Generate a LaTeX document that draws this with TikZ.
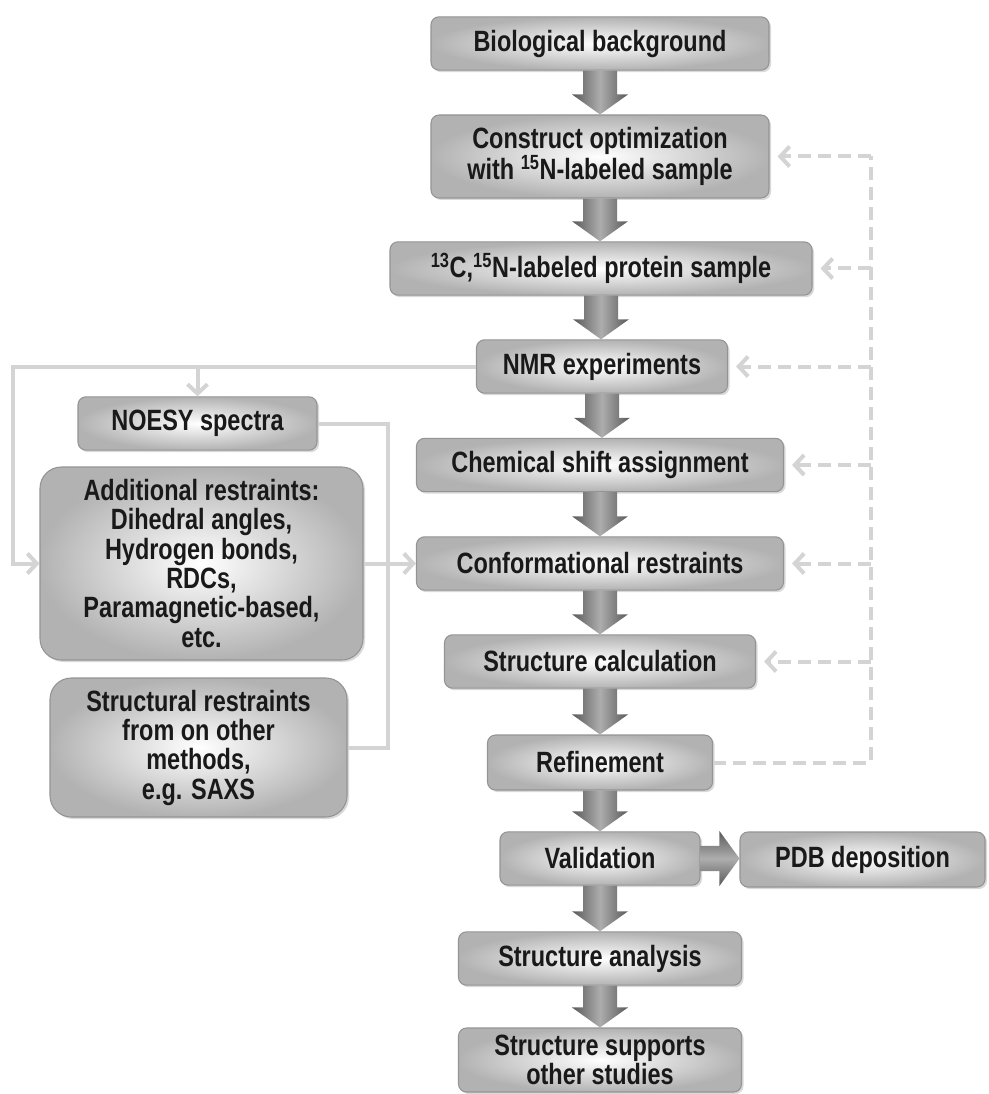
\documentclass[tikz,border=0pt]{standalone}
\usepackage{fontspec}
\setmainfont{Liberation Sans}[FakeStretch=0.8]
\usetikzlibrary{arrows.meta,calc,shadows}

% fat grey arrows between the steps
\newcommand{\fatdown}[2]{%
  \shade[fatv] let \p1=(#1.south), \p2=(#2.north) in
    (\x1-12.75pt,\y1) -- (\x1+12.75pt,\y1) -- (\x1+12.75pt,\y2+15pt)
    -- (\x1+21pt,\y2+15pt) -- (\x1,\y2) -- (\x1-21pt,\y2+15pt)
    -- (\x1-12.75pt,\y2+15pt) -- cycle;}
\newcommand{\fatright}[2]{%
  \shade[fath] let \p1=(#1.east), \p2=(#2.west) in
    (\x1,\y1-9.4pt) -- (\x2-15pt,\y1-9.4pt) -- (\x2-15pt,\y1-20.6pt)
    -- (\x2,\y1) -- (\x2-15pt,\y1+20.6pt) -- (\x2-15pt,\y1+9.4pt)
    -- (\x1,\y1+9.4pt) -- cycle;}

\begin{document}
\begin{tikzpicture}[x=0.75pt,y=-0.75pt,
    stage/.style={draw=black!42, line width=0.8pt, rounded corners=6pt,
      inner color=white, outer color=black!30,
      drop shadow={shadow xshift=1.5pt,shadow yshift=-1.5pt,opacity=0.3},
      minimum height=40pt, inner sep=0pt, align=center, text=black!90,
      font=\fontsize{22}{22}\selectfont\bfseries},
    bigstage/.style={stage, rounded corners=16pt},
    fatv/.style={left color=black!65, right color=black!65, middle color=black!32},
    fath/.style={top color=black!65, bottom color=black!65, middle color=black!32},
    feedline/.style={draw=black!17, line width=3pt},
    loopback/.style={feedline, dash pattern=on 10pt off 5pt},
    barb/.style={-{Straight Barb[length=7pt,width=15pt]}}]
  \useasboundingbox (0,0) rectangle (988,1094);

  % main steps
  \node[stage, minimum width=253.5pt] (bio) at (600,43.5) {Biological background};
  \node[stage, minimum width=253.5pt, minimum height=62.25pt] (construct) at (600,156.5)
    {Construct optimization\\with \textsuperscript{15}N-labeled sample};
  \node[stage, minimum width=316.5pt] (c13) at (601,268.5)
    {\textsuperscript{13}C,\textsuperscript{15}N-labeled protein sample};
  \node[stage, minimum width=188.25pt] (nmr) at (602,366.5) {NMR experiments};
  \node[stage, minimum width=275.25pt] (chem) at (600,465) {Chemical shift assignment};
  \node[stage, minimum width=275.25pt] (conf) at (600,563.5) {Conformational restraints};
  \node[stage, minimum width=233.25pt] (calc) at (600,661.5) {Structure calculation};
  \node[stage, minimum width=168.75pt, minimum height=41.25pt] (refine) at (600,762.5) {Refinement};
  \node[stage, minimum width=150pt] (valid) at (600,858.5) {Validation};
  \node[stage, minimum width=183.75pt, minimum height=41.25pt] (pdb) at (862.5,859.5) {PDB deposition};
  \node[stage, minimum width=212.25pt] (analysis) at (600,958.5) {Structure analysis};
  \node[stage, minimum width=212.25pt, minimum height=48pt] (supports) at (600,1060)
    {Structure supports\\other studies};

  % restraint sources
  \node[stage, minimum width=179.25pt] (noesy) at (197.5,423.5) {NOESY spectra};
  \node[bigstage, minimum width=242.25pt, minimum height=144.75pt] (addl) at (201.5,563.5)
    {Additional restraints:\\Dihedral angles,\\Hydrogen bonds,\\RDCs,\\Paramagnetic-based,\\etc.};
  \node[bigstage, minimum width=222.75pt, minimum height=104.25pt] (struct) at (198.5,747.5)
    {Structural restraints\\from on other\\methods,\\e.g. SAXS};

  % flow
  \fatdown{bio}{construct}
  \fatdown{construct}{c13}
  \fatdown{c13}{nmr}
  \fatdown{nmr}{chem}
  \fatdown{chem}{conf}
  \fatdown{conf}{calc}
  \fatdown{calc}{refine}
  \fatdown{refine}{valid}
  \fatdown{valid}{analysis}
  \fatdown{analysis}{supports}
  \fatright{valid}{pdb}

  % rails
  \coordinate (leftrail) at (13,0);
  \coordinate (midrail) at (388,0);
  \coordinate (backrail) at (871,0);

  % spectra and restraints
  \draw[feedline,barb] (nmr.west) -- (nmr.west -| leftrail) |- (addl.west);
  \draw[feedline,barb] (nmr.west -| noesy.north) -- (noesy.north);
  \draw[feedline] (noesy.east) -- (noesy.east -| midrail)
                  -- (struct.east -| midrail) -- (struct.east);
  \draw[feedline,barb] (addl.east) -- (conf.west);

  % iterate back
  \draw[loopback] (refine.east) -- (refine.east -| backrail) -- (construct.east -| backrail);
  \foreach \n in {construct,c13,nmr,chem,conf,calc}
    \draw[loopback,barb,shorten >=6pt] (\n.east -| backrail) -- (\n.east);
\end{tikzpicture}
\end{document}
